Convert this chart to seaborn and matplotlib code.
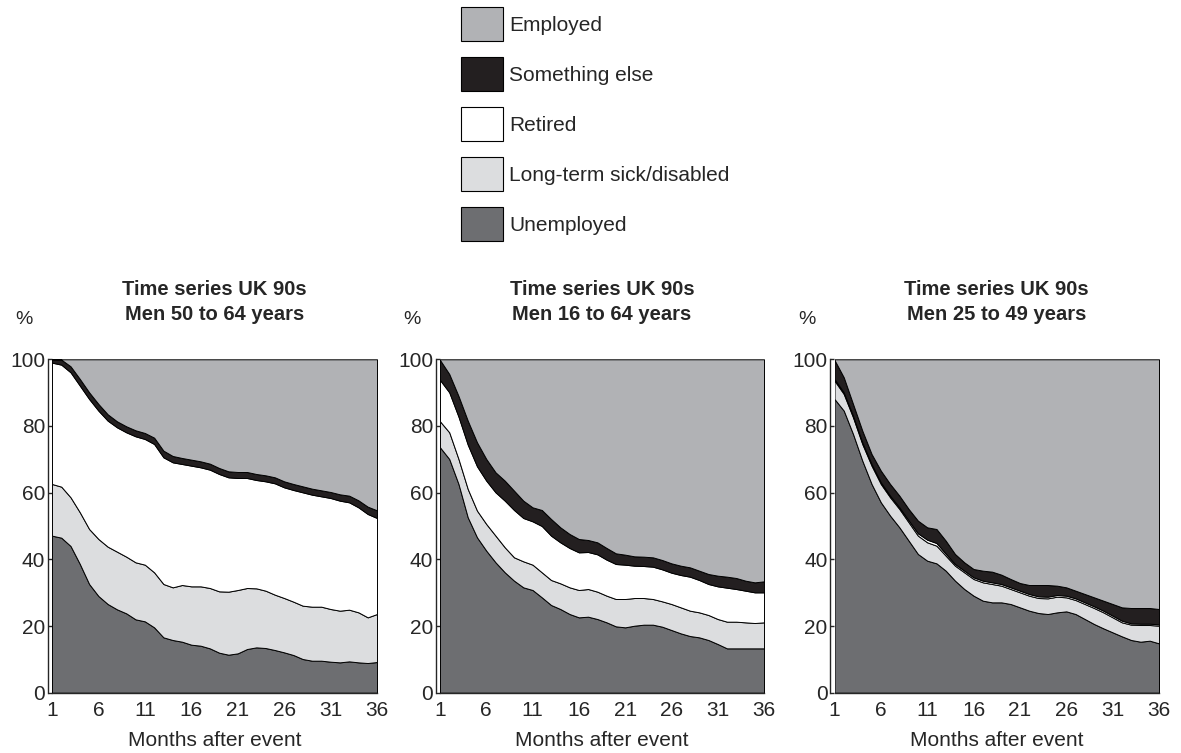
import matplotlib
matplotlib.use("Agg")
import matplotlib.pyplot as plt
from matplotlib.patches import Patch
import pandas as pd
import seaborn as sns

months = list(range(1, 37))
month_ticks = [1, 6, 11, 16, 21, 26, 31, 36]
pct_ticks = [0, 20, 40, 60, 80, 100]

statuses = ["Employed", "Something else", "Retired",
            "Long-term sick/disabled", "Unemployed"]
status_colors = ["#b1b2b5", "#231f20", "#ffffff", "#dcdddf", "#6d6e71"]

titles = ["Time series UK 90s\nMen 50 to 64 years",
          "Time series UK 90s\nMen 16 to 64 years",
          "Time series UK 90s\nMen 25 to 49 years"]

# Men 50 to 64 years, % in each status by month after the event
unemployed_50_64 = [47.1, 46.5, 44.0, 38.6, 32.6, 29.0, 26.6, 25.0, 23.8, 22.0, 21.4, 19.6,
                    16.6, 15.8, 15.3, 14.4, 14.1, 13.3, 12.0, 11.4, 11.8, 13.1, 13.6, 13.4,
                    12.8, 12.1, 11.3, 10.1, 9.6, 9.6, 9.3, 9.1, 9.4, 9.1, 8.9, 9.2]
sick_50_64 = [15.5, 15.3, 14.6, 15.5, 16.5, 17.1, 17.2, 17.3, 17.0, 17.1, 17.0, 16.5,
              16.0, 15.8, 17.0, 17.5, 17.8, 18.1, 18.4, 18.9, 19.0, 18.3, 17.7, 17.2,
              16.6, 16.3, 16.0, 16.0, 16.2, 16.2, 15.8, 15.5, 15.5, 15.0, 13.7, 14.4]
retired_50_64 = [36.4, 36.6, 37.5, 38.0, 39.0, 38.5, 37.8, 37.3, 37.3, 37.8, 37.7, 38.5,
                 38.0, 37.5, 36.3, 36.2, 35.7, 35.5, 35.2, 34.3, 33.6, 33.0, 32.5, 32.8,
                 33.4, 33.2, 33.5, 34.0, 33.6, 33.1, 33.3, 33.0, 32.2, 31.5, 31.0, 28.8]
other_50_64 = [1.0, 1.5, 1.8, 2.0, 2.0, 2.0, 1.9, 1.8, 1.8, 1.8, 1.8, 1.9,
               2.0, 1.9, 1.8, 1.8, 1.8, 1.8, 1.8, 1.8, 1.8, 1.8, 1.8, 1.8,
               1.8, 1.8, 1.8, 1.8, 1.8, 1.8, 1.8, 1.9, 2.0, 2.1, 2.2, 2.3]
employed_50_64 = [0.0, 0.1, 2.1, 5.9, 9.9, 13.4, 16.5, 18.6, 20.1, 21.3, 22.1, 23.5,
                  27.4, 29.0, 29.6, 30.1, 30.6, 31.3, 32.6, 33.6, 33.8, 33.8, 34.4, 34.8,
                  35.4, 36.6, 37.4, 38.1, 38.8, 39.3, 39.8, 40.5, 40.9, 42.3, 44.2, 45.3]

# Men 16 to 64 years
unemployed_16_64 = [73.6, 70.1, 62.6, 52.6, 46.6, 42.6, 39.1, 36.1, 33.6, 31.6, 30.8, 28.6,
                    26.3, 25.1, 23.6, 22.6, 22.8, 22.1, 21.1, 19.9, 19.6, 20.1, 20.4, 20.4,
                    19.8, 18.8, 17.8, 17.0, 16.6, 15.8, 14.6, 13.3, 13.3, 13.3, 13.3, 13.3]
sick_16_64 = [7.8, 8.0, 7.5, 8.5, 8.0, 8.0, 8.0, 7.5, 7.0, 7.8, 7.6, 7.5,
              7.5, 7.7, 8.0, 8.2, 8.3, 8.2, 8.0, 8.2, 8.5, 8.3, 8.0, 7.7,
              7.6, 7.8, 7.8, 7.6, 7.5, 7.5, 7.5, 8.0, 8.0, 7.8, 7.6, 7.8]
retired_16_64 = [12.4, 12.0, 12.7, 13.3, 13.3, 13.0, 13.0, 14.0, 14.2, 13.0, 13.0, 13.9,
                 13.3, 12.3, 11.8, 11.3, 11.1, 11.2, 10.8, 10.5, 10.3, 9.7, 9.6, 9.7,
                 9.6, 9.4, 9.7, 10.2, 9.7, 9.3, 9.8, 10.2, 9.8, 9.5, 9.2, 9.0]
other_16_64 = [6.0, 5.5, 6.2, 7.2, 7.2, 6.5, 6.0, 6.0, 5.8, 5.2, 4.2, 4.8,
               5.0, 4.5, 4.2, 4.0, 3.6, 3.6, 3.5, 3.2, 3.0, 2.8, 2.8, 2.8,
               2.8, 2.8, 2.8, 2.8, 2.8, 3.0, 3.2, 3.3, 3.3, 3.0, 3.0, 3.3]
employed_16_64 = [0.2, 4.4, 11.0, 18.4, 24.9, 29.9, 33.9, 36.4, 39.4, 42.4, 44.4, 45.2,
                  47.9, 50.4, 52.4, 53.9, 54.2, 54.9, 56.6, 58.2, 58.6, 59.1, 59.2, 59.4,
                  60.2, 61.2, 61.9, 62.4, 63.4, 64.4, 64.9, 65.2, 65.6, 66.4, 66.9, 66.6]

# Men 25 to 49 years
unemployed_25_49 = [88.1, 84.6, 77.6, 69.6, 62.6, 57.1, 53.1, 49.6, 45.6, 41.6, 39.6, 38.8,
                    36.6, 33.6, 31.1, 29.1, 27.6, 27.1, 27.1, 26.6, 25.6, 24.6, 23.9, 23.6,
                    24.1, 24.4, 23.6, 22.1, 20.6, 19.3, 18.1, 16.9, 15.8, 15.3, 15.6, 14.8]
sick_25_49 = [5.5, 5.0, 5.0, 5.0, 5.5, 5.5, 5.5, 5.5, 5.5, 5.5, 5.5, 5.3,
              4.5, 4.5, 5.0, 5.0, 5.5, 5.5, 5.0, 4.5, 4.5, 4.5, 4.5, 4.7,
              4.7, 4.2, 4.2, 4.5, 4.8, 4.8, 4.5, 4.2, 4.6, 5.0, 4.7, 5.3]
retired_25_49 = [0.5, 0.5, 0.5, 0.5, 0.5, 0.5, 0.5, 0.5, 0.6, 0.7, 0.8, 0.8,
                 0.6, 0.5, 0.5, 0.5, 0.5, 0.5, 0.5, 0.5, 0.5, 0.5, 0.5, 0.5,
                 0.5, 0.5, 0.5, 0.5, 0.5, 0.5, 0.5, 0.5, 0.4, 0.4, 0.4, 0.4]
other_25_49 = [5.7, 4.5, 3.5, 3.5, 3.0, 3.5, 3.5, 3.5, 3.4, 3.8, 3.7, 4.2,
               3.9, 3.0, 2.5, 2.5, 3.0, 3.2, 2.8, 2.5, 2.3, 2.7, 3.4, 3.5,
               2.8, 2.5, 2.3, 2.5, 2.7, 3.0, 3.5, 4.0, 4.6, 4.7, 4.7, 4.6]
employed_25_49 = [0.2, 5.4, 13.4, 21.4, 28.4, 33.4, 37.4, 40.9, 44.9, 48.4, 50.4, 50.9,
                  54.4, 58.4, 60.9, 62.9, 63.4, 63.7, 64.6, 65.9, 67.1, 67.7, 67.7, 67.7,
                  67.9, 68.4, 69.4, 70.4, 71.4, 72.4, 73.4, 74.4, 74.6, 74.6, 74.6, 74.9]

groups = [
    [employed_50_64, other_50_64, retired_50_64, sick_50_64, unemployed_50_64],
    [employed_16_64, other_16_64, retired_16_64, sick_16_64, unemployed_16_64],
    [employed_25_49, other_25_49, retired_25_49, sick_25_49, unemployed_25_49],
]

sns.set_theme(style="ticks")
plt.rcParams["font.family"] = ["Liberation Sans", "DejaVu Sans"]
plt.rcParams["axes.linewidth"] = 1.0

W, H = 1181, 753
fig = plt.figure(figsize=(W / 100, H / 100), dpi=100)

# Plot-area boxes in pixels: (left, right)
panel_x = [(52, 377), (440, 764), (834.5, 1159)]
top_px, bottom_px = 359.3, 692.7

palette = dict(zip(statuses, status_colors))

for (x0, x1), title, series in zip(panel_x, titles, groups):
    ax = fig.add_axes([x0 / W, (H - bottom_px) / H, (x1 - x0) / W, (bottom_px - top_px) / H])
    frames = [pd.DataFrame({"month": months, "share": vals, "status": name})
              for name, vals in zip(statuses, series)]
    df = pd.concat(frames, ignore_index=True)
    # stacked areas: first hue level ends up on top of the stack
    sns.histplot(data=df, x="month", weights="share", hue="status", hue_order=statuses,
                 palette=palette, multiple="stack", element="poly", discrete=True,
                 alpha=1, edgecolor="black", linewidth=0.7, legend=False, ax=ax)
    ax.set_xlim(1, 36)
    ax.set_ylim(0, 100)
    ax.set_xticks(month_ticks)
    ax.set_yticks(pct_ticks)
    ax.set_xlabel("Months after event", fontsize=15, labelpad=8)
    ax.set_ylabel("")
    ax.set_title(title, fontsize=14.5, fontweight="bold", pad=28.2, linespacing=1.41)
    for side in ("top", "right"):
        ax.spines[side].set_visible(False)
    ax.spines["left"].set_position(("outward", 3))
    ax.tick_params(axis="y", direction="in", length=3, width=1, pad=2, labelsize=15)
    ax.tick_params(axis="x", length=0, pad=6, labelsize=15)
    ax.annotate("%", xy=(0, 1), xycoords="axes fraction", xytext=(-20, 29),
                textcoords="offset points", ha="center", va="center", fontsize=14)

handles = [Patch(facecolor=c, edgecolor="black", linewidth=0.8, label=s)
           for s, c in zip(statuses, status_colors)]
fig.legend(handles=handles, loc="upper left", bbox_to_anchor=(461 / W, 1 - 7 / H),
           frameon=False, fontsize=15, handlelength=2.0, handleheight=2.136,
           labelspacing=0.77, handletextpad=0.3, borderpad=0, borderaxespad=0)

fig.savefig("out.png", dpi=100)
